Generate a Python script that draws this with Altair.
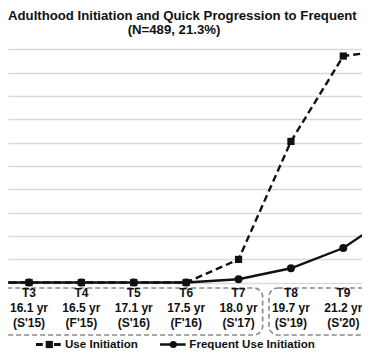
import altair as alt
import pandas as pd

# ---- data ----
waves = ["T2", "T3", "T4", "T5", "T6", "T7", "T8", "T9", "T10"]
wave_num = [2, 3, 4, 5, 6, 7, 8, 9, 10]
use_init = [0, 0, 0, 0, 0, 9.9, 60.5, 97.1, 100]
freq_init = [0, 0, 0, 0, 0, 1.4, 6.1, 14.8, 30]

label_waves = ["T3", "T4", "T5", "T6", "T7", "T8", "T9"]
label_nums = [3, 4, 5, 6, 7, 8, 9]
ages = ["16.1", "16.5", "17.1", "17.5", "18.0", "19.7", "21.2"]
seasons = ["S'15", "F'15", "S'16", "F'16", "S'17", "S'19", "S'20"]

box_first = [1, 8]   # first wave inside each dashed box
box_last = [7, 10]   # last wave inside each dashed box

series_names = ["Use Initiation", "Frequent Use Initiation"]
title_lines = ["Adulthood Initiation and Quick Progression to Frequent", "(N=489, 21.3%)"]
grid_values = [0, 10, 20, 30, 40, 50, 60, 70, 80, 90, 100]

# ---- layout ----
W, H = 354, 342
FONT = "Liberation Sans"
xs = alt.Scale(domain=[2.599, 9.357], nice=False, zero=False)
ys = alt.Scale(domain=[-28.94, 117.71], nice=False, zero=False)

lines_df = pd.DataFrame({
    "wave": waves * 2,
    "t": wave_num * 2,
    "value": use_init + freq_init,
    "series": [series_names[0]] * len(waves) + [series_names[1]] * len(waves),
})
use_df = lines_df[lines_df.series == series_names[0]]
freq_df = lines_df[lines_df.series == series_names[1]]

X = alt.X("t:Q", scale=xs, axis=None)
Y = alt.Y("value:Q", scale=ys, title=None,
          axis=alt.Axis(values=grid_values, grid=True, labels=False, tickCount=11,
                        ticks=False, domain=False, gridColor="#d9d9d9", gridWidth=1.6))

use_line = alt.Chart(use_df).mark_line(color="#111", strokeWidth=2.4, strokeDash=[7, 4], clip=True).encode(x=X, y=Y)
use_pts = alt.Chart(use_df).mark_point(shape="square", filled=True, color="#111", size=52, opacity=1, clip=True).encode(x=X, y=Y)
freq_line = alt.Chart(freq_df).mark_line(color="#111", strokeWidth=2.4, clip=True).encode(x=X, y=Y)
freq_pts = alt.Chart(freq_df).mark_point(shape="circle", filled=True, color="#111", size=64, opacity=1, clip=True).encode(x=X, y=Y)

# x labels (three lines each)
lab_df = pd.DataFrame({
    "t": label_nums,
    "txt": [f"{w}\n{a} yr\n({s})" for w, a, s in zip(label_waves, ages, seasons)],
})
labels = alt.Chart(lab_df).mark_text(
    font=FONT, fontSize=12, fontWeight="bold", color="#111", lineBreak="\n",
    lineHeight=15.3, baseline="alphabetic", align="center").encode(
    x=X, y=alt.value(288.5), text="txt:N")

# dashed rounded boxes
box_df = pd.DataFrame({"x0": [f - 0.42 for f in box_first], "x1": [l + 0.46 for l in box_last]})
boxes = alt.Chart(box_df).mark_rect(
    fill="transparent", stroke="#8a8a8a", strokeWidth=1.6, strokeDash=[5, 3],
    cornerRadius=9, clip=True).encode(
    x=alt.X("x0:Q", scale=xs, axis=None), x2="x1:Q",
    y=alt.value(280), y2=alt.value(327))

# title
t1 = alt.Chart(pd.DataFrame({"s": [title_lines[0]]})).mark_text(
    font=FONT, fontSize=13.2, fontWeight="bold", color="#111", align="left", baseline="alphabetic").encode(
    x=alt.value(0), y=alt.value(12), text="s:N")
t2 = alt.Chart(pd.DataFrame({"s": [title_lines[1]]})).mark_text(
    font=FONT, fontSize=13.2, fontWeight="bold", color="#111", align="center", baseline="alphabetic").encode(
    x=alt.value(166), y=alt.value(26.3), text="s:N")

# legend
LY = 336.5
leg_dash1 = alt.Chart(pd.DataFrame({"a": [0]})).mark_rule(color="#111", strokeWidth=3).encode(
    x=alt.value(28), x2=alt.value(34.8), y=alt.value(LY))
leg_dash2 = alt.Chart(pd.DataFrame({"a": [0]})).mark_rule(color="#111", strokeWidth=3).encode(
    x=alt.value(46), x2=alt.value(52.7), y=alt.value(LY))
leg_sq = alt.Chart(pd.DataFrame({"a": [0]})).mark_point(shape="square", filled=True, color="#111", size=52, opacity=1).encode(
    x=alt.value(41.3), y=alt.value(LY))
leg_line = alt.Chart(pd.DataFrame({"a": [0]})).mark_rule(color="#111", strokeWidth=2.5).encode(
    x=alt.value(152), x2=alt.value(177.7), y=alt.value(LY))
leg_circ = alt.Chart(pd.DataFrame({"a": [0]})).mark_point(shape="circle", filled=True, color="#111", size=50, opacity=1).encode(
    x=alt.value(165.3), y=alt.value(LY))
leg_t1 = alt.Chart(pd.DataFrame({"s": [series_names[0]]})).mark_text(
    font=FONT, fontSize=11.6, fontWeight="bold", color="#111", align="left", baseline="middle").encode(
    x=alt.value(57), y=alt.value(LY), text="s:N")
leg_t2 = alt.Chart(pd.DataFrame({"s": [series_names[1]]})).mark_text(
    font=FONT, fontSize=11.6, fontWeight="bold", color="#111", align="left", baseline="middle").encode(
    x=alt.value(181.3), y=alt.value(LY), text="s:N")

chart = alt.layer(
    boxes, labels, use_line, freq_line, use_pts, freq_pts,
    t1, t2, leg_dash1, leg_dash2, leg_sq, leg_line, leg_circ, leg_t1, leg_t2,
).properties(
    width=W, height=H, autosize="none", padding=0, background="white"
).configure_view(strokeWidth=0)

chart.save("out.html", embed_options={"renderer": "svg", "actions": False})
